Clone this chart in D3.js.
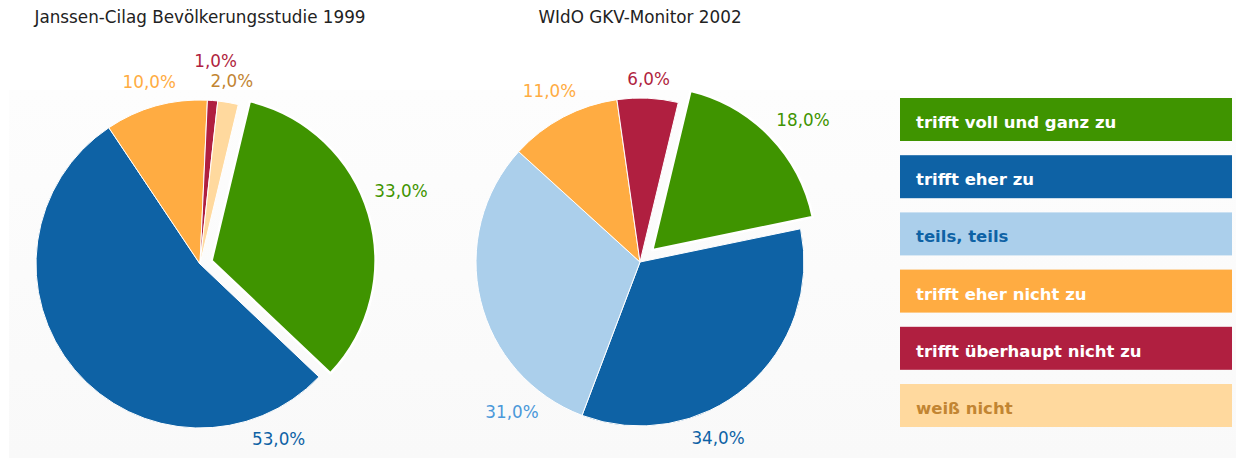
<!DOCTYPE html>
<html>
<head>
<meta charset="utf-8">
<script src="https://cdn.jsdelivr.net/npm/d3@7"></script>
<style>
  body { margin: 0; background: #fff; }
  text { font-family: "DejaVu Sans", Verdana, sans-serif; }
</style>
</head>
<body>
<div id="chart"></div>
<script>
// categories (legend order = slice order, clockwise)
var categories = ["trifft voll und ganz zu", "trifft eher zu", "teils, teils",
                  "trifft eher nicht zu", "trifft überhaupt nicht zu", "weiß nicht"];
var colors     = ["#3f9400", "#0e62a5", "#abcfeb", "#ffac42", "#b01f40", "#ffd99e"];
var labelColors = ["#3f9400", "#0e62a5", "#4a98d9", "#ffac42", "#b01f40", "#c28532"];
var legendText = ["#ffffff", "#ffffff", "#0e62a5", "#ffffff", "#ffffff", "#c28532"];

// series values (percent)
var titles     = ["Janssen-Cilag Bevölkerungsstudie 1999", "WIdO GKV-Monitor 2002"];
var values1999 = [33, 53, 0, 10, 1, 2];
var values2002 = [18, 34, 31, 11, 6, 0];

var width = 1236, height = 458;
var radius = 164;
var startDeg = 13.5;

var charts = [
  {title: titles[0], values: values1999, cx: 200, cy: 264, explode: 12,
   labelAt: [0.47, 0.116, 0.5, 0.5, 0.5, 0.5]},
  {title: titles[1], values: values2002, cx: 640, cy: 262, explode: 17,
   labelAt: [0.55, 0.635, 0.177, 0.5, 0.5, 0.5]}
];

var pct = d3.formatLocale({decimal: ",", thousands: ".", grouping: [3], currency: ["", "€"]}).format(".1f");

var svg = d3.select("#chart").append("svg")
    .attr("width", width)
    .attr("height", height);

var grad = svg.append("defs").append("linearGradient")
    .attr("id", "bg").attr("x1", 0).attr("y1", 0).attr("x2", 0).attr("y2", 1);
grad.append("stop").attr("offset", "0%").attr("stop-color", "#fdfdfd");
grad.append("stop").attr("offset", "100%").attr("stop-color", "#f9f9f9");

svg.append("rect")
    .attr("x", 9).attr("y", 90)
    .attr("width", width - 9).attr("height", height - 90)
    .attr("fill", "url(#bg)");

var arc = d3.arc().innerRadius(0).outerRadius(radius);
var a0 = startDeg * Math.PI / 180;
var pie = d3.pie().sort(null).startAngle(a0).endAngle(a0 + 2 * Math.PI);

charts.forEach(function(c) {
    var g = svg.append("g").attr("transform", "translate(" + c.cx + "," + c.cy + ")");

    g.append("text")
        .attr("x", 0).attr("y", 23 - c.cy)
        .attr("text-anchor", "middle")
        .attr("font-size", 16.8)
        .attr("fill", "#222")
        .text(c.title);

    var arcs = pie(c.values).filter(function(d) { return d.value > 0; });

    // offset for the exploded slice (first category)
    arcs.forEach(function(d) {
        var mid = (d.startAngle + d.endAngle) / 2;
        var off = d.index === 0 ? c.explode : 0;
        d.ox = Math.sin(mid) * off;
        d.oy = -Math.cos(mid) * off;
    });

    g.selectAll("path.slice")
        .data(arcs)
      .enter().append("path")
        .attr("class", "slice")
        .attr("transform", function(d) { return "translate(" + d.ox + "," + d.oy + ")"; })
        .attr("d", arc)
        .attr("fill", function(d) { return colors[d.index]; })
        .attr("stroke", "#fff")
        .attr("stroke-width", function(d) { return d.index === 0 ? 2.5 : 1; })
        .attr("stroke-linejoin", "round");

    // labels, placed outside the arc; bigger slices first, smaller pushed out on overlap
    var placed = [];
    var order = arcs.slice().sort(function(a, b) { return b.value - a.value; });
    order.forEach(function(d) {
        var t = c.labelAt[d.index];
        var ang = d.startAngle + t * (d.endAngle - d.startAngle);
        var lbl = g.append("text")
            .attr("text-anchor", "middle")
            .attr("dominant-baseline", "central")
            .attr("font-size", 16.8)
            .attr("fill", labelColors[d.index])
            .text(pct(d.value) + "%");
        var hw = lbl.node().getComputedTextLength() / 2, hh = 8;
        var s = Math.sin(ang), co = -Math.cos(ang);
        var dist = radius + 10 + hw * Math.abs(s) + hh * Math.abs(co);
        var x, y, box;
        for (var k = 0; k < 80; k++) {
            x = d.ox + s * dist;
            y = d.oy + co * dist;
            box = {x0: x - hw, x1: x + hw, y0: y - hh, y1: y + hh};
            var hit = placed.some(function(b) {
                return box.x0 < b.x1 && box.x1 > b.x0 && box.y0 < b.y1 + 4 && box.y1 + 4 > b.y0;
            });
            if (!hit) break;
            dist += 1;
        }
        placed.push(box);
        lbl.attr("x", x).attr("y", y);
    });
});

// legend
var legendY = d3.scaleBand()
    .domain(categories)
    .range([98, 98 + 57.2 * (categories.length - 1) + 43])
    .paddingInner((57.2 - 43) / 57.2)
    .paddingOuter(0);

var leg = svg.append("g").selectAll("g")
    .data(categories)
  .enter().append("g")
    .attr("transform", function(d) { return "translate(900," + legendY(d) + ")"; });

leg.append("rect")
    .attr("width", 332)
    .attr("height", legendY.bandwidth())
    .attr("fill", function(d, i) { return colors[i]; });

leg.append("text")
    .attr("x", 16)
    .attr("y", 30)
    .attr("font-size", 16.5)
    .attr("font-weight", "bold")
    .attr("fill", function(d, i) { return legendText[i]; })
    .text(function(d) { return d; });
</script>
</body>
</html>
